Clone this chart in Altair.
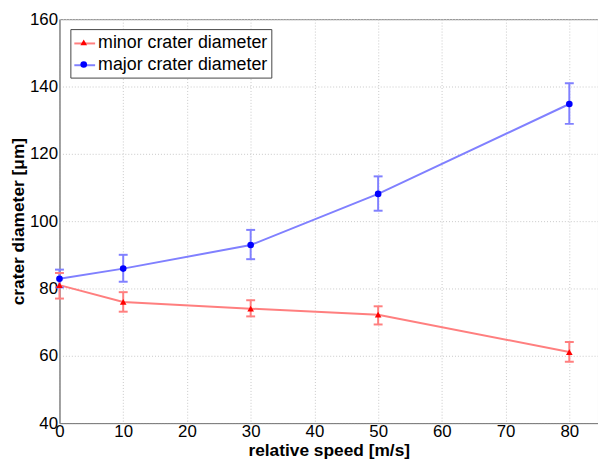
import altair as alt
import pandas as pd

speed = [0, 10, 30, 50, 80]
series_names = ["minor crater diameter", "major crater diameter"]
marker_keys = ["minor", "major"]
minor = [81.0, 76.0, 74.0, 72.2, 61.1]
minor_lo = [77.0, 73.1, 71.7, 69.3, 58.2]
minor_hi = [84.6, 78.9, 76.5, 74.7, 64.1]
major = [82.9, 85.9, 92.9, 108.1, 134.8]
major_lo = [80.3, 82.0, 88.7, 103.1, 128.9]
major_hi = [85.6, 90.0, 97.4, 113.3, 141.0]

rows = []
for name, key, vals, lo, hi in [
    (series_names[0], marker_keys[0], minor, minor_lo, minor_hi),
    (series_names[1], marker_keys[1], major, major_lo, major_hi),
]:
    for s, v, l, h in zip(speed, vals, lo, hi):
        rows.append({"series": name, "marker": key, "speed": s, "value": v, "lo": l, "hi": h})
df = pd.DataFrame(rows)

FONT = "Liberation Sans"

xs = alt.Scale(domain=[0, 84.5], nice=False)
ys = alt.Scale(domain=[40, 160], nice=False)

xax = alt.Axis(values=list(range(0, 81, 10)), title="relative speed [m/s]", labelFlush=False)
yax = alt.Axis(values=list(range(40, 161, 20)), title="crater diameter [\u03bcm]", labelFlush=False)

line_legend = alt.Legend(
    orient="none", legendX=11, legendY=10, title=None,
    symbolType="stroke", symbolSize=441, symbolStrokeWidth=2,
    labelFontSize=18, labelFont=FONT, labelColor="#000", labelOffset=2,
    padding=3, rowPadding=1, strokeColor="#444", fillColor="white",
    labelLimit=300,
)
pt_legend = alt.Legend(
    orient="none", legendX=18, legendY=17, title=None,
    symbolSize=45, labelFontSize=1, labelFont=FONT, labelOpacity=0,
    padding=3, rowPadding=15.3, symbolStrokeWidth=0, labelLimit=300,
)

color = alt.Color("series:N", scale=alt.Scale(domain=series_names, range=["#ff7f7f", "#8080ff"]),
                  legend=line_legend, sort=series_names)
x = alt.X("speed:Q", scale=xs, axis=xax)
y = alt.Y("value:Q", scale=ys, axis=yax)

base = alt.Chart(df)

lines = base.mark_line(strokeWidth=2).encode(x=x, y=y, color=color)
rules = base.mark_rule(strokeWidth=2).encode(x=x, y=alt.Y("lo:Q", scale=ys, axis=yax), y2="hi:Q", color=color)
cap_lo = base.mark_tick(orient="horizontal", size=9, thickness=2, opacity=1).encode(
    x=x, y=alt.Y("lo:Q", scale=ys, axis=yax), color=color)
cap_hi = base.mark_tick(orient="horizontal", size=9, thickness=2, opacity=1).encode(
    x=x, y=alt.Y("hi:Q", scale=ys, axis=yax), color=color)
points = base.mark_point(filled=True, size=45, opacity=1, strokeWidth=0).encode(
    x=x, y=y,
    fill=alt.Fill("marker:N", scale=alt.Scale(domain=marker_keys, range=["#ff0000", "#0000ff"]),
                  legend=pt_legend, sort=marker_keys),
    shape=alt.Shape("marker:N", scale=alt.Scale(domain=marker_keys, range=["triangle-up", "circle"]),
                    legend=pt_legend, sort=marker_keys),
)

chart = alt.layer(lines, rules, cap_lo, cap_hi, points).properties(
    width=544, height=408,
    autosize=alt.AutoSizeParams(type="none"),
    padding={"left": 52, "top": 9, "right": 0, "bottom": 38},
).configure_view(
    stroke="#808080", strokeWidth=1
).configure_axis(
    labelFont=FONT, labelFontSize=17, labelColor="#000",
    titleFont=FONT, titleFontSize=17.5, titleFontWeight="bold", titleColor="#000",
    domainColor="#808080", tickSize=0,
    gridColor="#c8c8c8", gridDash=[1, 2], gridWidth=1,
).configure_axisX(
    labelPadding=1, titlePadding=2,
).configure_axisY(
    labelPadding=2, titlePadding=2,
)

chart.save("out.html", embed_options={"renderer": "svg", "actions": False})
